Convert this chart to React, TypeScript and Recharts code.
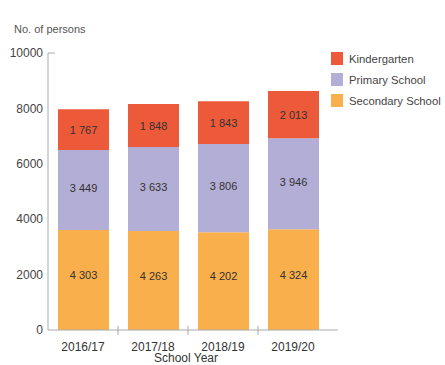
import React from "react";
import { BarChart, Bar, XAxis, YAxis, LabelList, Label } from "recharts";

const years = ["2016/17", "2017/18", "2018/19", "2019/20"];

// bar heights as drawn against the axis
const secondaryBars = [3610, 3574, 3526, 3635];
const primaryBars = [2888, 3032, 3189, 3285];
const kindergartenBars = [1470, 1553, 1541, 1708];

// figures printed inside the bars
const secondaryLabels = [4303, 4263, 4202, 4324];
const primaryLabels = [3449, 3633, 3806, 3946];
const kindergartenLabels = [1767, 1848, 1843, 2013];

const yTicks = [0, 2000, 4000, 6000, 8000, 10000];

const COLORS = {
  kindergarten: "#EC5A3A",
  primary: "#B3AED6",
  secondary: "#F9AF4B",
};

const FONT = "'Liberation Sans', Arial, sans-serif";

const data = years.map((year, i) => ({
  year,
  secondary: secondaryBars[i],
  primary: primaryBars[i],
  kindergarten: kindergartenBars[i],
  secondaryLabel: secondaryLabels[i],
  primaryLabel: primaryLabels[i],
  kindergartenLabel: kindergartenLabels[i],
}));

const legendItems = [
  { name: "Kindergarten", color: COLORS.kindergarten },
  { name: "Primary School", color: COLORS.primary },
  { name: "Secondary School", color: COLORS.secondary },
];

const fmt = (n: number) => String(n).replace(/\B(?=(\d{3})+(?!\d))/g, " ");

const makeBarLabel = (dy: number) => (props: any) => {
  const { x, y, width, height, value } = props;
  return (
    <text
      x={x + width / 2}
      y={y + height / 2 + dy}
      textAnchor="middle"
      dominantBaseline="central"
      fontSize={11}
      fill="#333"
      fontFamily={FONT}
    >
      {fmt(value)}
    </text>
  );
};

const XTick = (props: any) => {
  const { x, y, payload, index } = props;
  const half = 35;
  return (
    <g>
      {index > 0 && <line x1={x - half} x2={x - half} y1={326} y2={335} stroke="#aaa" />}
      <text x={x} y={y} dy="0.71em" textAnchor="middle" fontSize={12} fill="#333" fontFamily={FONT}>
        {payload.value}
      </text>
    </g>
  );
};

const YTick = (props: any) => {
  const { x, y, payload } = props;
  return (
    <g>
      {payload.value === 10000 && <line x1={x + 5} x2={x + 12} y1={y} y2={y} stroke="#aaa" />}
      <text x={x} y={y} dy="0.35em" textAnchor="end" fontSize={12} fill="#444" fontFamily={FONT}>
        {payload.value}
      </text>
    </g>
  );
};

export default function App() {
  return (
    <div style={{ position: "absolute", left: 0, top: 0, width: 445, height: 365, fontFamily: FONT }}>
      <div style={{ position: "absolute", left: 14, top: 23, fontSize: 11, color: "#555" }}>No. of persons</div>
      <div style={{ position: "absolute", left: 331, top: 48, width: 114, fontSize: 11.3, color: "#444" }}>
        {legendItems.map((item) => (
          <div key={item.name} style={{ display: "flex", alignItems: "center", height: 21, whiteSpace: "nowrap" }}>
            <span style={{ width: 12, height: 13, background: item.color, marginRight: 6, flexShrink: 0 }} />
            {item.name}
          </div>
        ))}
      </div>
      <BarChart width={445} height={365} data={data} margin={{ top: 53, right: 107, left: 0, bottom: 0 }}>
        <XAxis
          dataKey="year"
          height={35}
          interval={0}
          axisLine={{ stroke: "#aaa" }}
          tickLine={false}
          tickSize={8}
          tickMargin={4}
          padding={{ left: 0, right: 10 }}
          tick={<XTick />}
        >
          <Label value="School Year" position="insideBottom" dx={-7} offset={3} fontSize={12} fill="#333" />
        </XAxis>
        <YAxis
          width={48}
          domain={[0, 10000]}
          ticks={yTicks}
          axisLine={{ stroke: "#aaa" }}
          tickLine={false}
          tickSize={5}
          tickMargin={0}
          tick={<YTick />}
        />
        <Bar dataKey="secondary" stackId="a" fill={COLORS.secondary} barSize={51} isAnimationActive={false}>
          <LabelList dataKey="secondaryLabel" content={makeBarLabel(-5)} />
        </Bar>
        <Bar dataKey="primary" stackId="a" fill={COLORS.primary} barSize={51} isAnimationActive={false}>
          <LabelList dataKey="primaryLabel" content={makeBarLabel(-2)} />
        </Bar>
        <Bar dataKey="kindergarten" stackId="a" fill={COLORS.kindergarten} barSize={51} isAnimationActive={false}>
          <LabelList dataKey="kindergartenLabel" content={makeBarLabel(0)} />
        </Bar>
      </BarChart>
    </div>
  );
}
